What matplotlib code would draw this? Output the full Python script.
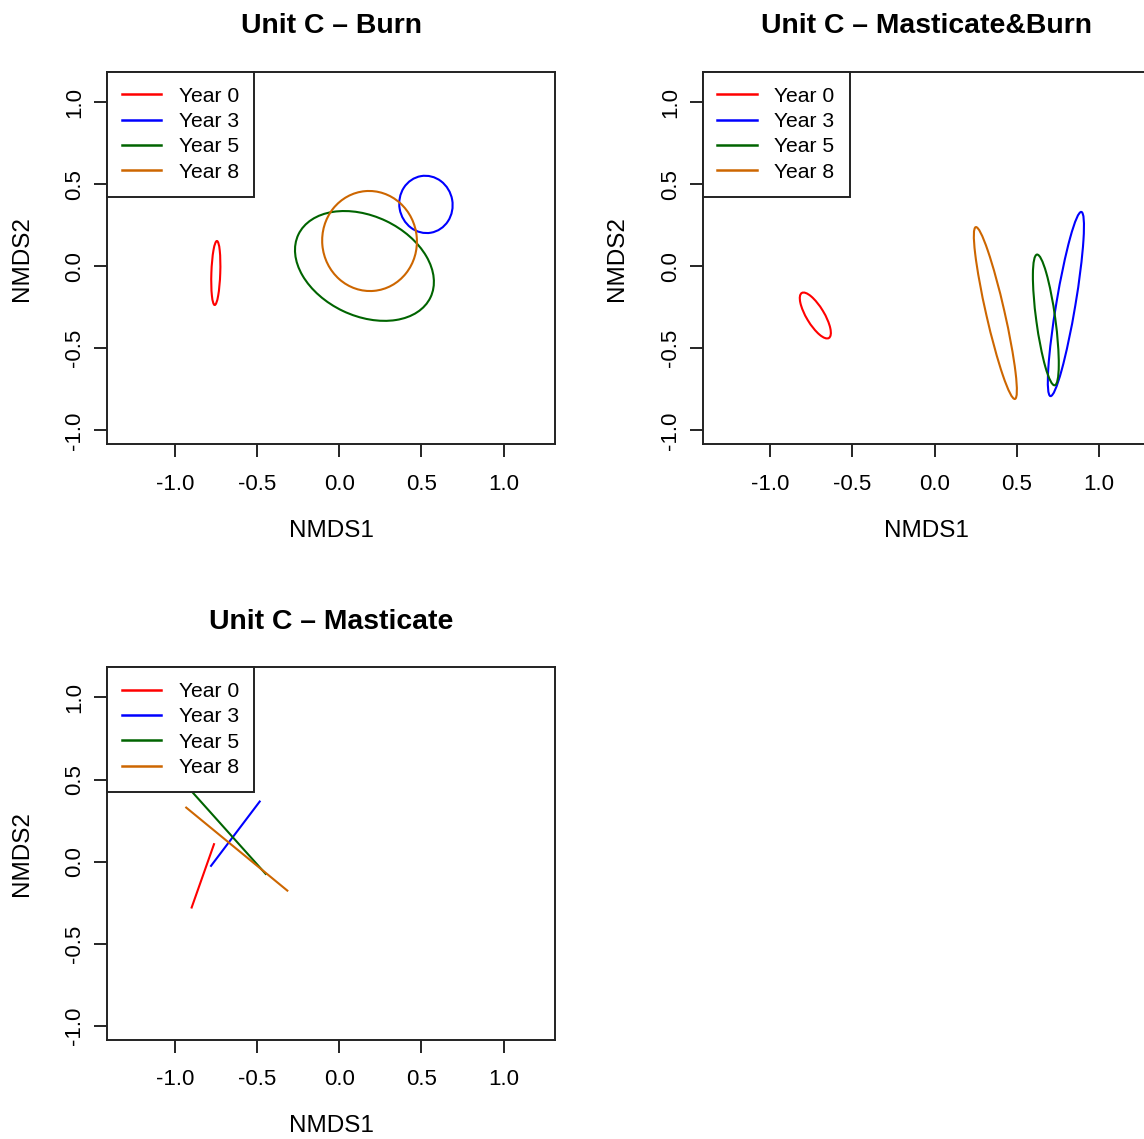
import matplotlib
matplotlib.use("Agg")
import matplotlib.pyplot as plt
from matplotlib.patches import Ellipse
from matplotlib.lines import Line2D

plt.rcParams["font.family"] = ["Liberation Sans", "DejaVu Sans"]

# groups shared by all panels
years = ["Year 0", "Year 3", "Year 5", "Year 8"]
colors = ["#FF0000", "#0000FF", "#006400", "#CD6600"]

tick_vals = [-1.0, -0.5, 0.0, 0.5, 1.0]
tick_labels = ["-1.0", "-0.5", "0.0", "0.5", "1.0"]

# Burn: ellipse centre, semi-axes and rotation (deg) per year
burn_cx = [-0.751, 0.527, 0.153, 0.184]
burn_cy = [-0.041, 0.377, 0.002, 0.154]
burn_a = [0.195, 0.175, 0.445, 0.305]
burn_b = [0.027, 0.162, 0.304, 0.288]
burn_ang = [88.0, 100.0, -25.5, 95.0]

# Masticate&Burn
mb_cx = [-0.726, 0.798, 0.676, 0.369]
mb_cy = [-0.300, -0.230, -0.327, -0.285]
mb_a = [0.160, 0.569, 0.402, 0.537]
mb_b = [0.054, 0.058, 0.058, 0.056]
mb_ang = [121.0, 80.5, 97.7, 102.8]

# Masticate: degenerate ellipses, drawn as segments
mast_x0 = [-0.898, -0.780, -0.932, -0.931]
mast_y0 = [-0.280, -0.026, 0.466, 0.329]
mast_x1 = [-0.762, -0.484, -0.448, -0.316]
mast_y1 = [0.106, 0.366, -0.075, -0.177]

W, H = 1144, 1139
AX_W, AX_H = 447.7, 372.3

fig = plt.figure(figsize=(W / 100, H / 100), dpi=100)


def make_panel(left_px, top_px, title):
    ax = fig.add_axes([left_px / W, 1 - (top_px + AX_H) / H, AX_W / W, AX_H / H])
    ax.set_xlim(-1.411, 1.312)
    ax.set_ylim(-1.085, 1.184)
    ax.set_xticks(tick_vals)
    ax.set_xticklabels(tick_labels)
    ax.set_yticks(tick_vals)
    ax.set_yticklabels(tick_labels, rotation=90, va="center")
    ax.tick_params(direction="out", length=9.4, width=1.2, labelsize=16)
    ax.tick_params(axis="x", pad=12)
    ax.tick_params(axis="y", pad=6.4)
    for sp in ax.spines.values():
        sp.set_linewidth(1.4)
        sp.set_color("#222222")
    ax.set_xlabel("NMDS1", fontsize=17.5, va="center")
    ax.xaxis.set_label_coords(0.5, -86.2 / AX_H)
    ax.set_ylabel("NMDS2", fontsize=17.5, va="center")
    ax.yaxis.set_label_coords(-85.6 / AX_W, 0.5)
    ax.set_title(title, fontsize=20.4, fontweight="bold", pad=27.9)
    return ax


def add_legend(ax):
    handles = [Line2D([], [], color=c, lw=1.8) for c in colors]
    leg = ax.legend(handles, years, loc="upper left", bbox_to_anchor=(0, 1),
                    borderaxespad=0, fontsize=15.2, frameon=True, fancybox=False,
                    edgecolor="#222222", framealpha=1, borderpad=0.7,
                    handlelength=1.85, handletextpad=0.85, labelspacing=0.3)
    leg.get_frame().set_linewidth(1.4)
    leg.set_zorder(5)


def draw_ellipses(ax, cx, cy, a, b, ang):
    for i in range(len(years)):
        ax.add_patch(Ellipse((cx[i], cy[i]), 2 * a[i], 2 * b[i], angle=ang[i],
                             fill=False, edgecolor=colors[i], lw=1.5))


ax1 = make_panel(107.3, 72, "Unit C \u2013 Burn")
draw_ellipses(ax1, burn_cx, burn_cy, burn_a, burn_b, burn_ang)
add_legend(ax1)

ax2 = make_panel(702.7, 72, "Unit C \u2013 Masticate&Burn")
draw_ellipses(ax2, mb_cx, mb_cy, mb_a, mb_b, mb_ang)
add_legend(ax2)

ax3 = make_panel(107.3, 667.3, "Unit C \u2013 Masticate")
for i in range(len(years)):
    ax3.plot([mast_x0[i], mast_x1[i]], [mast_y0[i], mast_y1[i]], color=colors[i], lw=1.5)
add_legend(ax3)

fig.savefig("out.png", dpi=100)
